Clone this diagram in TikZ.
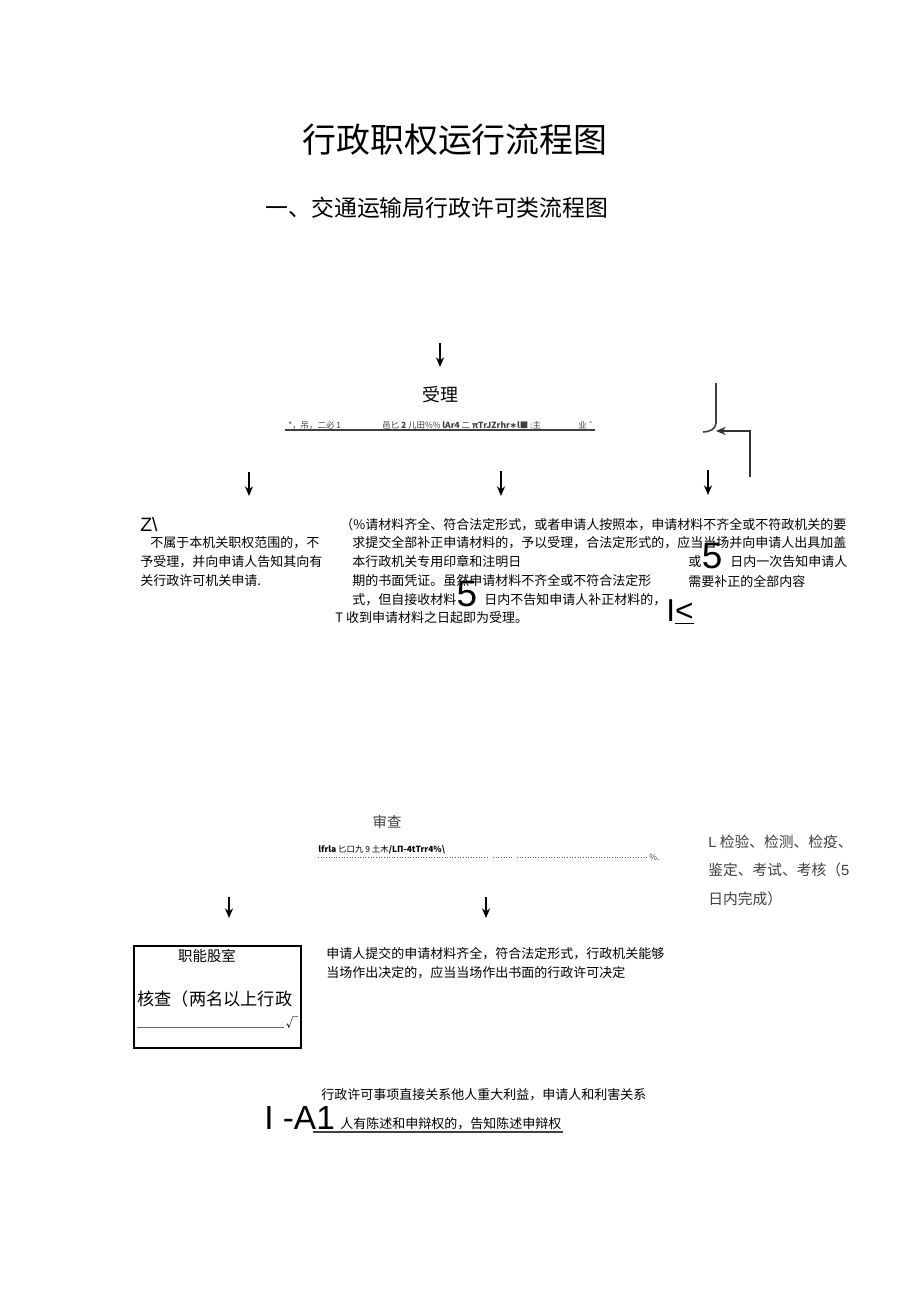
\documentclass[tikz,border=0pt]{standalone}
\usepackage{fontspec}
\setmainfont{Noto Sans CJK SC}
\newfontfamily\latin{Liberation Sans}
\newfontfamily\symb{DejaVu Sans}
\usetikzlibrary{positioning,arrows.meta}

\begin{document}
\begin{tikzpicture}[x=0.02cm, y=-0.02cm,
    line/.style={anchor=west, inner sep=0pt, font=\fontsize{7.4}{9}\selectfont},
    note/.style={anchor=west, inner sep=0pt, text=black!75, font=\fontsize{8.4}{10}\selectfont},
    big/.style={inner sep=0pt, font=\latin\fontsize{21}{21}\selectfont},
    tiny/.style={anchor=west, inner sep=0pt, text=black!75, font=\fontsize{4.8}{5}\selectfont},
    arrow/.style={-{Stealth[length=5.5pt,width=4.6pt]}, line width=0.9pt}
]
\useasboundingbox[fill=white] (0,0) rectangle (920,1301);

% Title
\node (title) at (455,140) {\fontsize{19.3}{20}\selectfont 行政职权运行流程图};
\node (subtitle) at (437,208) {\fontsize{13}{14}\selectfont 一、交通运输局行政许可类流程图};

% Accept
\coordinate (in0) at (440,343);
\coordinate (in1) at (440,367);
\draw[arrow] (in0) -- (in1);
\node (accept) at (440,395) {\fontsize{10.2}{11}\selectfont 受理};

\node[tiny] (g1) at (288,425) {*，吊，二必 1};
\node[tiny] (g2) at (382,425) {邑匕 \textbf{2} 儿田\%\% \textbf{lAr4} 二 \textbf{πTrJZrhr{\symb ∗}l■} :主};
\node[tiny] (g3) at (578,425) {业 {\symb ˆ}};
\coordinate (ul0) at (285,430);
\coordinate (ul1) at (595,430);
\draw[black!75, line width=0.8pt] (ul0) -- (ul1);

% Return bracket
\coordinate (br0) at (716,383);
\coordinate (br1) at (716,423);
\coordinate (br2) at (703,432);
\draw[black!75, line width=0.9pt] (br0) -- (br1) to[out=-90,in=0] (br2);
\coordinate (ret0) at (750,477);
\coordinate (ret1) at (716,431);
\draw[arrow, black!80] (ret0) |- (ret1);

% Three branches
\coordinate (l0) at (249,472);
\coordinate (l1) at (249,496);
\coordinate (m0) at (501,471);
\coordinate (m1) at (501,496);
\coordinate (r0) at (708,470);
\coordinate (r1) at (708,495);
\draw[arrow] (l0) -- (l1);
\draw[arrow] (m0) -- (m1);
\draw[arrow] (r0) -- (r1);

% Left branch
\node[big, anchor=west, font=\latin\fontsize{11}{11}\selectfont] (zl) at (140,525) {Z\textbackslash};
\node[line] (left1) at (150,543) {不属于本机关职权范围的，不};
\node[line] (left2) at (140,562) {予受理，并向申请人告知其向有};
\node[line] (left3) at (140,581) {关行政许可机关申请.};

% Middle branch
\node[line] (mid1) at (340,525) {（\%请材料齐全、符合法定形式，或者申请人按照本，申请材料不齐全或不符政机关的要};
\node[line] (mid2) at (352,543) {求提交全部补正申请材料的，予以受理，合法定形式的，应当当场并向申请人出具加盖};
\node[line] (mid3) at (352,562) {本行政机关专用印章和注明日};
\node[line] (mid4) at (352,581) {期的书面凭证。虽然申请材料不齐全或不符合法定形};
\node[line] (mid5) at (352,600) {式，但自接收材料};
\node[big] (five1) at (467,594) {5};
\node[line] (mid5b) at (484,600) {日内不告知申请人补正材料的，};
\node[line] (mid6) at (335,618) {T 收到申请材料之日起即为受理。};

% Right branch
\node[line] (right1) at (688,562) {或};
\node[big] (five2) at (712,556) {5};
\node[line] (right1b) at (730,562) {日内一次告知申请人};
\node[line] (right2) at (688,581) {需要补正的全部内容};
\node[big, anchor=west, font=\latin\fontsize{18}{18}\selectfont] (ile) at (666,612) {I\underline{<}};

% Review
\node[text=black!75] (review) at (387,822) {\fontsize{8.2}{9}\selectfont 审查};
\node[tiny, text=black] (g4) at (318,850) {\textbf{lfrla} 匕口九 9 土木\textbf{/LΠ-4tTrr4\%\textbackslash}};
\coordinate (d0) at (318,857);
\coordinate (d1) at (487,857);
\coordinate (d2) at (493,857);
\coordinate (d3) at (512,857);
\coordinate (d4) at (517,857);
\coordinate (d5) at (648,857);
\draw[black!60, line width=0.5pt, densely dotted] (d0) -- (d1) (d2) -- (d3) (d4) -- (d5);
\node[tiny] (g5) at (649,857) {\%.};

\node[note] (test1) at (708,842) {{\latin L}\ 检验、检测、检疫、};
\node[note] (test2) at (708,870) {鉴定、考试、考核（{\latin 5}};
\node[note] (test3) at (708,899) {日内完成）};

\coordinate (a0) at (229,897);
\coordinate (a1) at (229,918);
\coordinate (b0) at (486,897);
\coordinate (b1) at (486,918);
\draw[arrow] (a0) -- (a1);
\draw[arrow] (b0) -- (b1);

% Unit check box
\node[draw, line width=0.6pt, minimum width=3.34cm, minimum height=2.04cm, inner sep=0pt] (unit) at (217.5,997) {};
\node (unitname) at (207,956) {\fontsize{8.2}{9}\selectfont 职能股室};
\node[anchor=west, inner sep=0pt] (check) at (137,999) {\fontsize{9.8}{11}\selectfont 核查（两名以上行政};
\coordinate (c0) at (137,1027);
\coordinate (c1) at (284,1027);
\draw[black!60, line width=0.4pt] (c0) -- (c1);
\node[inner sep=0pt] (tick) at (292,1023) {\fontsize{7}{8}\selectfont √};

\node[line] (spot1) at (326,954) {申请人提交的申请材料齐全，符合法定形式，行政机关能够};
\node[line] (spot2) at (326,973) {当场作出决定的，应当当场作出书面的行政许可决定};

% Hearing
\node[line] (hear1) at (321,1095) {行政许可事项直接关系他人重大利益，申请人和利害关系};
\node[big, anchor=west, font=\latin\fontsize{19}{19}\selectfont] (ia1) at (264,1118) {I -A1};
\node[line] (hear2) at (340,1124) {人有陈述和申辩权的，告知陈述申辩权};
\coordinate (h0) at (313,1132);
\coordinate (h1) at (563,1132);
\draw[black!75, line width=0.6pt] (h0) -- (h1);

\end{tikzpicture}
\end{document}
